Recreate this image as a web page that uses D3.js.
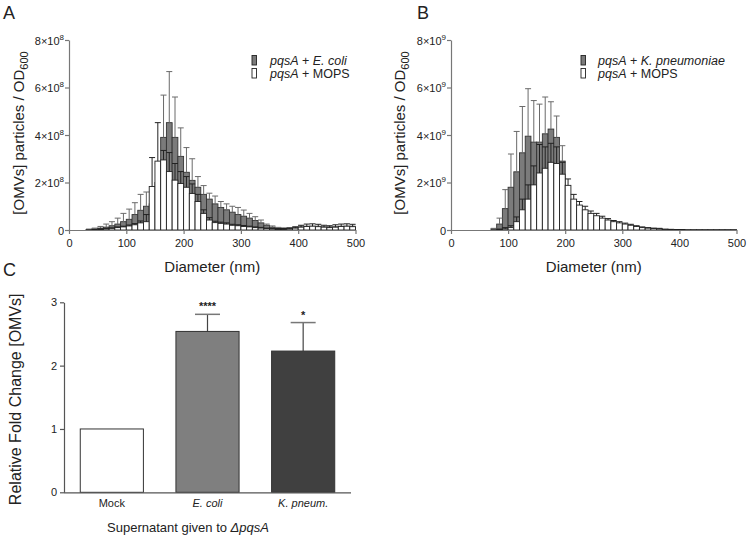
<!DOCTYPE html>
<html><head><meta charset="utf-8">
<script src="https://cdn.jsdelivr.net/npm/d3@7"></script>
<style>
body{margin:0;background:#fff;}
text{font-family:"Liberation Sans",Arial,Helvetica,sans-serif;fill:#222;}
</style></head>
<body><svg id="chart" width="747" height="539"></svg>
<script>
// ---------- Panel A data (x 1e8) ----------
const binsA = [30,40,50,60,70,80,90,100,110,120,130,140,150,160,170,180,190,200,210,220,230,240,250,260,270,280,290,300,310,320,330,340,350,360,370,380,390,400,410,420,430,440,450,460,470,480,490];
const ecoliA = [0.02,0.05,0.08,0.12,0.18,0.25,0.35,0.45,0.65,0.83,1.0,1.1,2.0,3.9,4.52,3.9,3.1,2.43,2.09,1.8,1.5,1.3,1.1,0.95,0.85,0.75,0.65,0.58,0.5,0.4,0.3,0.2,0.12,0.08,0.06,0.07,0.1,0.12,0.12,0.12,0.12,0.1,0.1,0.11,0.12,0.12,0.12];
const ecoliErrA = [0.02,0.03,0.07,0.13,0.17,0.25,0.35,0.43,0.5,0.67,0.6,0.5,0.8,1.78,2.15,1.7,1.2,1.04,0.91,0.45,0.37,0.25,0.33,0.25,0.25,0.25,0.3,0.26,0.2,0.16,0.12,0.05,0.05,0.03,0.03,0.03,0.03,0.04,0.04,0.04,0.04,0.04,0.04,0.04,0.04,0.04,0.04];
const mopsA = [0.01,0.02,0.03,0.05,0.07,0.1,0.13,0.17,0.22,0.3,0.35,1.83,2.9,2.95,2.46,2.1,1.96,1.8,1.54,1.2,0.7,0.42,0.31,0.28,0.25,0.2,0.18,0.15,0.13,0.1,0.08,0.06,0.05,0.04,0.04,0.05,0.08,0.12,0.15,0.16,0.14,0.12,0.1,0.12,0.15,0.16,0.14];
const mopsErrA = [0.01,0.01,0.02,0.02,0.02,0.03,0.03,0.04,0.05,0.08,0.3,1.22,1.62,0.4,0.8,0.7,0.5,0.45,0.4,0.3,0.15,0.1,0.06,0.05,0.05,0.04,0.04,0.04,0.03,0.03,0.03,0.02,0.02,0.02,0.02,0.03,0.05,0.08,0.1,0.1,0.1,0.08,0.08,0.1,0.1,0.1,0.1];

// ---------- Panel B data (x 1e9) ----------
const binsB = [70,80,90,100,110,120,130,140,150,160,170,180,190,200,210,220,230,240,250,260,270,280,290,300,310,320,330,340,350,360,370,380,390,400,410,420,430,440,450,460,470,480,490];
const kpnB = [0.05,0.25,0.9,1.8,2.45,3.25,3.95,3.7,3.7,4.05,4.25,3.9,2.9,1.2,0.8,0.5,0.35,0.25,0.2,0.15,0.12,0.1,0.08,0.07,0.06,0.05,0.04,0.03,0.03,0.02,0.02,0.02,0.01,0.01,0.01,0.01,0.01,0.01,0.01,0.01,0.01,0.01,0.01];
const kpnErrB = [0.02,0.25,0.8,1.4,1.7,1.95,2.0,1.75,1.6,1.55,1.15,0.9,0.65,0.3,0.2,0.15,0.1,0.08,0.06,0.05,0.04,0.03,0.03,0.02,0.02,0.02,0.02,0.01,0.01,0.01,0.01,0.01,0.01,0.01,0.01,0.01,0.01,0.01,0.01,0.01,0.01,0.01,0.01];
const mopsB = [0,0.02,0.05,0.1,0.35,0.85,1.3,1.9,2.4,2.6,2.85,2.8,2.35,1.88,1.3,1.05,0.85,0.7,0.6,0.5,0.42,0.35,0.3,0.25,0.2,0.15,0.1,0.08,0.06,0.05,0.04,0.03,0.02,0.02,0.01,0.01,0.01,0.01,0.01,0.01,0.01,0.01,0.01];
const mopsErrB = [0,0.02,0.05,0.08,0.2,0.45,0.6,0.8,1.2,0.9,0.8,0.7,0.5,0.27,0.2,0.15,0.15,0.1,0.1,0.08,0.06,0.05,0.05,0.04,0.04,0.03,0.03,0.02,0.02,0.02,0.01,0.01,0.01,0.01,0.01,0.01,0.01,0.01,0.01,0.01,0.01,0.01,0.01];

const xTicks = [0,100,200,300,400,500];
const yTicksAB = [0,2,4,6,8];

// ---------- Panel C data ----------
const categoriesC = ["Mock","E. coli","K. pneum."];
const foldC = [1, 2.54, 2.23];
const foldErrC = [0, 0.27, 0.45];
const starsC = ["", "****", "*"];
const colorsC = ["#ffffff", "#7f7f7f", "#404040"];
const yTicksC = [0,1,2,3];

const svg = d3.select("#chart");

function panelLetter(t, x, y){
  svg.append("text").attr("x", x).attr("y", y).attr("font-size", 18).text(t);
}

function histogram(opt){
  const g = svg.append("g");
  const x = d3.scaleLinear().domain([0,500]).range([opt.x0, opt.x1]);
  const y = d3.scaleLinear().domain([0,8]).range([opt.y0, opt.y1]);
  const bw = 10;
  const series = [
    {vals: opt.gray, errs: opt.grayErr, fill:"#7b7b7b", stroke:"#333", errColor:"#6a6a6a"},
    {vals: opt.white, errs: opt.whiteErr, fill:"#ffffff", stroke:"#222", errColor:"#222"}
  ];
  series.forEach(s => {
    const data = opt.bins.map((b,i)=>({b, v:s.vals[i], e:s.errs[i]}));
    g.append("g").selectAll("rect").data(data).join("rect")
      .attr("x", d=>x(d.b)).attr("width", d=>x(d.b+bw)-x(d.b))
      .attr("y", d=>y(d.v)).attr("height", d=>y(0)-y(d.v))
      .attr("fill", s.fill).attr("stroke", s.stroke).attr("stroke-width", 0.9);
    const eg = g.append("g").attr("stroke", s.errColor).attr("stroke-width", 1);
    eg.selectAll("line.v").data(data.filter(d=>d.e>0.015)).join("line")
      .attr("x1", d=>x(d.b+bw/2)).attr("x2", d=>x(d.b+bw/2))
      .attr("y1", d=>y(d.v)).attr("y2", d=>y(d.v+d.e));
    eg.selectAll("line.c").data(data.filter(d=>d.e>0.015)).join("line")
      .attr("x1", d=>x(d.b+bw/2)-3).attr("x2", d=>x(d.b+bw/2)+3)
      .attr("y1", d=>y(d.v+d.e)).attr("y2", d=>y(d.v+d.e));
  });
  const xa = g.append("g").attr("transform", `translate(0,${opt.y0})`)
    .call(d3.axisBottom(x).tickValues(xTicks).tickSize(4).tickSizeOuter(0));
  const ya = g.append("g").attr("transform", `translate(${opt.x0},0)`)
    .call(d3.axisLeft(y).tickValues(yTicksAB).tickSize(4).tickSizeOuter(0).tickFormat(""));
  [xa, ya].forEach(a=>{
    a.selectAll("path,line").attr("stroke", "#777").attr("stroke-width", 1.2);
    a.selectAll("text").attr("font-size", 11).attr("fill", "#222").style("font-family","Liberation Sans, Arial");
  });
  xa.selectAll("text").attr("dy", "0.9em");
  ya.selectAll(".tick").each(function(d){
    const t = d3.select(this).append("text").attr("x", -5).attr("y", 4)
      .attr("text-anchor","end").attr("font-size", 11);
    if (d === 0) { t.text("0"); }
    else {
      t.append("tspan").text(d + "\u00d710");
      t.append("tspan").attr("dy", -5).attr("font-size", 8).text(opt.exp);
    }
  });
  svg.append("text").attr("x", (opt.x0+opt.x1)/2).attr("y", 272).attr("text-anchor","middle")
    .attr("font-size", 15).text("Diameter (nm)");
  const yl = svg.append("text").attr("transform", `translate(${opt.yLabX},${(opt.y0+opt.y1)/2 - 2}) rotate(-90)`)
    .attr("text-anchor","middle").attr("font-size", 15);
  yl.append("tspan").text("[OMVs] particles / OD");
  yl.append("tspan").attr("dy", 4).attr("font-size", 11).text("600");
  const lg = svg.append("g").attr("transform", `translate(${opt.legX},${opt.legY})`);
  const items = [
    {fill:"#7b7b7b", parts:[["pqsA",true],[" + ",false],[opt.grayName,true]]},
    {fill:"#ffffff", parts:[["pqsA",true],[" + MOPS",false]]}
  ];
  items.forEach((it,i)=>{
    lg.append("rect").attr("x",0).attr("y", i*13).attr("width",4.5).attr("height",9.5)
      .attr("fill", it.fill).attr("stroke","#222").attr("stroke-width",0.9);
    const t = lg.append("text").attr("x", opt.legTextDx).attr("y", i*13+9).attr("font-size", 12.5);
    it.parts.forEach(p=>t.append("tspan").attr("font-style", p[1]?"italic":"normal").text(p[0]));
  });
}

panelLetter("A", 3, 19);
panelLetter("B", 417, 19);
panelLetter("C", 3, 276);

histogram({x0:69, x1:355.5, y0:230, y1:40, bins:binsA, gray:ecoliA, grayErr:ecoliErrA,
  white:mopsA, whiteErr:mopsErrA, exp:"8", yLabX:24, legX:252, legY:55.5, legTextDx:18, grayName:"E. coli"});
histogram({x0:451, x1:736.5, y0:230, y1:40, bins:binsB, gray:kpnB, grayErr:kpnErrB,
  white:mopsB, whiteErr:mopsErrB, exp:"9", yLabX:405, legX:581, legY:55.5, legTextDx:17, grayName:"K. pneumoniae"});

// ---------- Panel C ----------
(function(){
  const x0 = 64, x1 = 351, y0 = 492.3, y1 = 302.3;
  const x = d3.scaleBand().domain(categoriesC).range([x0, x1]).paddingInner(0.34).paddingOuter(0.17);
  const y = d3.scaleLinear().domain([0,3]).range([y0, y1]);
  const g = svg.append("g");
  const data = categoriesC.map((c,i)=>({c, v:foldC[i], e:foldErrC[i], s:starsC[i], col:colorsC[i]}));
  const eg = g.append("g");
  data.filter(d=>d.e>0).forEach(d=>{
    const cx = x(d.c) + x.bandwidth()/2;
    eg.append("line").attr("x1",cx).attr("x2",cx).attr("y1",y(d.v)).attr("y2",y(d.v+d.e))
      .attr("stroke","#444").attr("stroke-width",1.2);
    eg.append("line").attr("x1",cx-12.5).attr("x2",cx+12.5).attr("y1",y(d.v+d.e)).attr("y2",y(d.v+d.e))
      .attr("stroke","#777").attr("stroke-width",1.5);
  });
  g.selectAll("rect").data(data).join("rect")
    .attr("x", d=>x(d.c)).attr("width", x.bandwidth())
    .attr("y", d=>y(d.v)).attr("height", d=>y(0)-y(d.v))
    .attr("fill", d=>d.col).attr("stroke", "#333").attr("stroke-width", 1);
  g.selectAll("text.star").data(data.filter(d=>d.s)).join("text")
    .attr("x", d=>x(d.c)+x.bandwidth()/2).attr("y", d=>y(d.v+d.e)-4)
    .attr("text-anchor","middle").attr("font-size", 11).attr("font-weight","bold").text(d=>d.s);
  const xa = g.append("g").attr("transform", `translate(0,${y0})`)
    .call(d3.axisBottom(x).tickSize(0).tickSizeOuter(0));
  const ya = g.append("g").attr("transform", `translate(${x0},0)`)
    .call(d3.axisLeft(y).tickValues(yTicksC).tickSize(4).tickSizeOuter(0).tickFormat(d3.format("d")));
  [xa, ya].forEach(a=>{
    a.selectAll("path,line").attr("stroke", "#555").attr("stroke-width", 1.2);
    a.selectAll("text").attr("font-size", 11).attr("fill", "#222").style("font-family","Liberation Sans, Arial");
  });
  xa.select(".domain").attr("d", `M${x0},0.5H${x1}`);
  xa.selectAll("text").attr("dy","1.1em").attr("font-style", d=>d==="Mock"?"normal":"italic");
  svg.append("text").attr("transform", `translate(21,${(y0+y1)/2 + 2}) rotate(-90)`)
    .attr("text-anchor","middle").attr("font-size", 16).text("Relative Fold Change [OMVs]");
  const xl = svg.append("text").attr("x", 188).attr("y", 532).attr("text-anchor","middle")
    .attr("font-size", 13);
  xl.append("tspan").text("Supernatant given to ");
  xl.append("tspan").attr("font-style","italic").text("\u0394pqsA");
})();
</script></body></html>
